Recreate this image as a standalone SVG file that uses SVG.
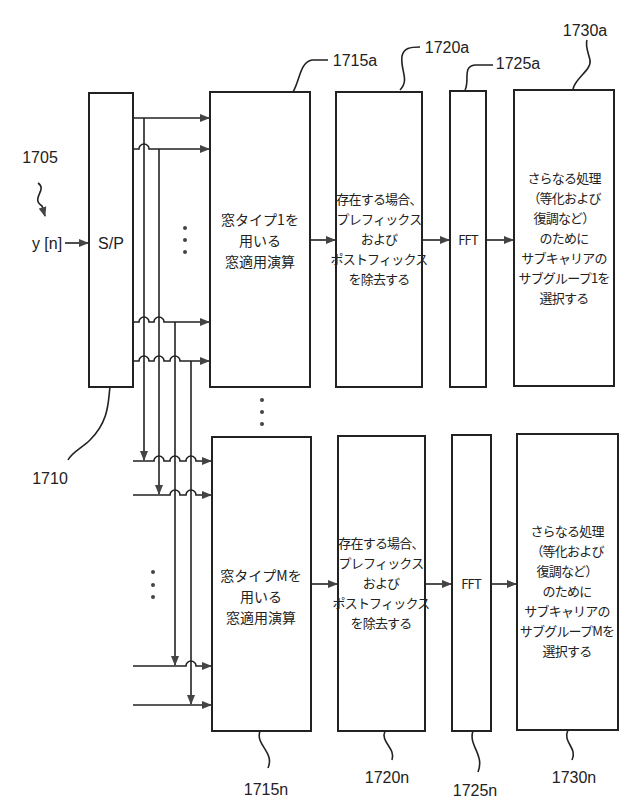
<svg xmlns="http://www.w3.org/2000/svg" width="640" height="810" viewBox="0 0 640 810">
<style>
.b{fill:#fff;stroke:#222;stroke-width:2}
.l{fill:none;stroke:#222;stroke-width:1.6}
.t{font-family:"Noto Sans CJK JP","Noto Sans",sans-serif;font-size:14px;fill:#222;text-anchor:middle}
.s{font-size:13px;letter-spacing:-0.8px}
.n{font-family:"Liberation Sans",sans-serif;font-size:16px;fill:#222;text-anchor:middle}
</style>
<defs><marker id="a" markerWidth="10" markerHeight="8" refX="9" refY="4" orient="auto" markerUnits="userSpaceOnUse"><path d="M0,0 L10,4 L0,8 Z" fill="#444"/></marker></defs>
<rect width="640" height="810" fill="#fff"/>
<g id="sp"><rect class="b" x="89" y="93" width="44" height="294"/><text class="n" x="111" y="249">S/P</text></g>
<g id="n1715a"><rect class="b" x="210" y="92" width="100" height="295"/>
<text class="t"><tspan x="260" y="225">窓タイプ1を</tspan><tspan x="260" y="246">用いる</tspan><tspan x="260" y="267">窓適用演算</tspan></text></g>
<g id="n1720a"><rect class="b" x="336" y="92" width="86" height="295"/>
<text class="t s"><tspan x="379" y="204">存在する場合、</tspan><tspan x="379" y="224">プレフィックス</tspan><tspan x="379" y="244">および</tspan><tspan x="379" y="264">ポストフィックス</tspan><tspan x="379" y="284">を除去する</tspan></text></g>
<g id="n1725a"><rect class="b" x="450" y="91" width="36" height="296"/><text class="t s" x="468" y="245">FFT</text></g>
<g id="n1730a"><rect class="b" x="514" y="90" width="100" height="296"/>
<text class="t s"><tspan x="564" y="183">さらなる処理</tspan><tspan x="564" y="203">（等化および</tspan><tspan x="564" y="223">復調など）</tspan><tspan x="564" y="243">のために</tspan><tspan x="564" y="263">サブキャリアの</tspan><tspan x="564" y="283">サブグループ1を</tspan><tspan x="564" y="303">選択する</tspan></text></g>
<g id="n1715n"><rect class="b" x="212" y="437" width="99" height="294"/>
<text class="t"><tspan x="261" y="581">窓タイプMを</tspan><tspan x="261" y="602">用いる</tspan><tspan x="261" y="623">窓適用演算</tspan></text></g>
<g id="n1720n"><rect class="b" x="338" y="436" width="87" height="295"/>
<text class="t s"><tspan x="381" y="548">存在する場合、</tspan><tspan x="381" y="568">プレフィックス</tspan><tspan x="381" y="588">および</tspan><tspan x="381" y="608">ポストフィックス</tspan><tspan x="381" y="628">を除去する</tspan></text></g>
<g id="n1725n"><rect class="b" x="452" y="435" width="39" height="296"/><text class="t s" x="471" y="589">FFT</text></g>
<g id="n1730n"><rect class="b" x="517" y="434" width="101" height="296"/>
<text class="t s"><tspan x="567" y="536">さらなる処理</tspan><tspan x="567" y="556">（等化および</tspan><tspan x="567" y="576">復調など）</tspan><tspan x="567" y="596">のために</tspan><tspan x="567" y="616">サブキャリアの</tspan><tspan x="567" y="636">サブグループMを</tspan><tspan x="567" y="656">選択する</tspan></text></g>
<g id="connectors" class="l">
<path class="l" d="M65,243 H88" marker-end="url(#a)"/>
<path class="l" d="M310,240 H335" marker-end="url(#a)"/>
<path class="l" d="M422,240 H449" marker-end="url(#a)"/>
<path class="l" d="M486,240 H513" marker-end="url(#a)"/>
<path class="l" d="M311,584 H337" marker-end="url(#a)"/>
<path class="l" d="M425,584 H451" marker-end="url(#a)"/>
<path class="l" d="M491,584 H516" marker-end="url(#a)"/>
<path class="l" d="M133,118 H209" marker-end="url(#a)"/>
<path class="l" d="M133,149 H139 a5,5 0 0 1 10,0 H209" marker-end="url(#a)"/>
<path class="l" d="M133,322 H139 a5,5 0 0 1 10,0 H154 a5,5 0 0 1 10,0 H209" marker-end="url(#a)"/>
<path class="l" d="M133,361 H139 a5,5 0 0 1 10,0 H154 a5,5 0 0 1 10,0 H170 a5,5 0 0 1 10,0 H209" marker-end="url(#a)"/>
<path class="l" d="M144,118 V460" marker-end="url(#a)"/>
<path class="l" d="M159,149 V494" marker-end="url(#a)"/>
<path class="l" d="M175,322 V665" marker-end="url(#a)"/>
<path class="l" d="M191,361 V704" marker-end="url(#a)"/>
<path class="l" d="M133,461 H154 a5,5 0 0 1 10,0 H170 a5,5 0 0 1 10,0 H186 a5,5 0 0 1 10,0 H211" marker-end="url(#a)"/>
<path class="l" d="M133,495 H170 a5,5 0 0 1 10,0 H186 a5,5 0 0 1 10,0 H211" marker-end="url(#a)"/>
<path class="l" d="M133,666 H186 a5,5 0 0 1 10,0 H211" marker-end="url(#a)"/>
<path class="l" d="M133,705 H211" marker-end="url(#a)"/>
<path class="l" d="M293,92 C300,80 300,62 312,60 H328"/>
<path class="l" d="M400,90 C410,80 400,70 402,56 C404,48 410,47 420,47"/>
<path class="l" d="M465,90 C470,82 462,66 475,65 H493"/>
<path class="l" d="M573,89 C575,78 592,70 590,60 C588,52 585,45 587,40"/>
<path class="l" d="M260,731 C255,745 275,752 268,768"/>
<path class="l" d="M385,731 C380,742 396,748 392,760"/>
<path class="l" d="M473,731 C468,745 485,755 478,772"/>
<path class="l" d="M568,730 C562,742 578,748 572,760"/>
<path class="l" d="M110,387 C108,400 110,420 90,440 C82,448 72,452 68,460"/>
<path class="l" d="M38,183 C48,190 30,198 42,206 L45,216" marker-end="url(#a)"/>
</g>
<g fill="#444"><circle cx="185" cy="228" r="2"/><circle cx="185" cy="240" r="2"/><circle cx="185" cy="252" r="2"/>
<circle cx="262" cy="400" r="2"/><circle cx="262" cy="412" r="2"/><circle cx="262" cy="424" r="2"/>
<circle cx="153" cy="572" r="2"/><circle cx="153" cy="585" r="2"/><circle cx="153" cy="597" r="2"/></g>
<text class="n" x="40" y="163">1705</text>
<text class="n" x="47" y="249">y [n]</text>
<text class="n" x="50" y="484">1710</text>
<text class="n" x="355" y="66">1715a</text>
<text class="n" x="447" y="53">1720a</text>
<text class="n" x="518" y="69">1725a</text>
<text class="n" x="585" y="36">1730a</text>
<text class="n" x="266" y="795">1715n</text>
<text class="n" x="387" y="783">1720n</text>
<text class="n" x="475" y="796">1725n</text>
<text class="n" x="574" y="783">1730n</text>
</svg>
